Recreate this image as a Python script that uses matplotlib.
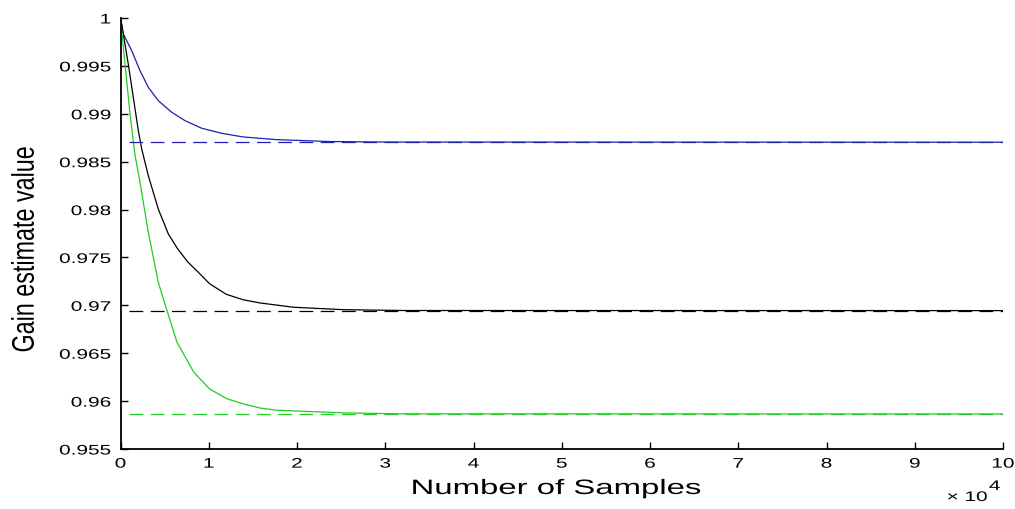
import matplotlib
matplotlib.use("Agg")
import matplotlib.pyplot as plt
from matplotlib.patheffects import AbstractPathEffect
from matplotlib.transforms import Affine2D

# x in samples
blue_x = [0, 320, 1270, 2210, 3150, 4280, 5800, 7310, 9200, 11470, 13900, 17700, 23700, 30000, 100000]
blue_y = [1.0, 0.99833, 0.99659, 0.99450, 0.99277, 0.99137, 0.99016, 0.98928, 0.98849, 0.98796,
          0.98758, 0.98730, 0.98710, 0.98705, 0.98703]

black_x = [0, 130, 880, 1450, 2020, 2400, 3150, 4280, 5420, 6400, 7600, 8820, 10100, 12000, 13900,
           15800, 19600, 25200, 32000, 100000]
black_y = [1.0, 0.99937, 0.99520, 0.99172, 0.98824, 0.98633, 0.98354, 0.98006, 0.97745, 0.97600,
           0.97455, 0.97345, 0.97225, 0.97115, 0.97058, 0.97025, 0.96980, 0.96955, 0.96946, 0.96945]

green_x = [0, 320, 700, 1080, 1640, 2210, 3150, 4280, 5270, 6400, 8300, 10100, 12000, 13900,
           15800, 17700, 25300, 32000, 100000]
green_y = [1.0, 0.99694, 0.99346, 0.98998, 0.98570, 0.98285, 0.97763, 0.97241, 0.96945, 0.96615,
           0.96302, 0.96127, 0.96027, 0.95971, 0.95928, 0.95905, 0.95877, 0.95867, 0.95866]

dash_start = 1000
blue_final = 0.98703
black_final = 0.96945
green_final = 0.95866

xticks = list(range(0, 100001, 10000))
xtick_labels = [str(i) for i in range(0, 11)]
yticks = [0.955, 0.96, 0.965, 0.97, 0.975, 0.98, 0.985, 0.99, 0.995, 1.0]
ytick_labels = ["0.955", "0.96", "0.965", "0.97", "0.975", "0.98", "0.985", "0.99", "0.995", "1"]


class Stretch(AbstractPathEffect):
    """Scale glyph outlines along (sx) and across (sy) the text direction."""
    def __init__(self, sx=1.0, sy=1.0, anchor='center'):
        super().__init__()
        self.sx, self.sy, self.anchor = sx, sy, anchor

    def draw_path(self, renderer, gc, tpath, affine, rgbFace=None):
        ext = tpath.get_extents()
        if self.anchor == 'left':
            px = ext.x0
        elif self.anchor == 'right':
            px = ext.x1
        else:
            px = 0.5 * (ext.x0 + ext.x1)
        py = 0.5 * (ext.y0 + ext.y1)
        t = Affine2D().translate(-px, -py).scale(self.sx, self.sy).translate(px, py)
        renderer.draw_path(gc, tpath, t + affine, rgbFace)


plt.rcParams['font.family'] = ['Liberation Sans', 'DejaVu Sans']

W, H = 1015, 510
fig = plt.figure(figsize=(W / 100, H / 100), dpi=100)
ax = fig.add_axes([120.5 / W, 1 - 450 / H, (1003 - 120.5) / W, (450 - 19) / H])

c_blue = '#1e1eb0'
c_black = '#000000'
c_green = '#22cc22'

ax.plot(blue_x, blue_y, color=c_blue, lw=0.9)
ax.plot(black_x, black_y, color=c_black, lw=0.9)
ax.plot(green_x, green_y, color=c_green, lw=0.9)

for val, c in [(blue_final, c_blue), (black_final, c_black), (green_final, c_green)]:
    ax.plot([dash_start, 100000], [val, val], color=c, lw=0.9, dashes=(11, 6))

ax.set_xlim(0, 100000)
ax.set_ylim(0.955, 1.0)
ax.set_xticks(xticks)
ax.set_xticklabels(xtick_labels)
ax.set_yticks(yticks)
ax.set_yticklabels(ytick_labels)
ax.tick_params(direction='in', length=5, width=1, labelsize=10, colors='black')
ax.tick_params(axis='y', pad=7)
ax.tick_params(axis='x', pad=5.5)
for s in ['top', 'right']:
    ax.spines[s].set_visible(False)
for s in ['left', 'bottom']:
    ax.spines[s].set_linewidth(1.3)

for lbl in ax.get_yticklabels():
    lbl.set_path_effects([Stretch(1.5, 1.0, 'right')])
for lbl in ax.get_xticklabels():
    lbl.set_path_effects([Stretch(1.5, 1.0, 'center')])

fig.text(556.5 / W, 1 - 495 / H, "Number of Samples", fontsize=15, ha='center', va='baseline',
         path_effects=[Stretch(1.58, 1.0, 'center')])
fig.text(24.5 / W, 1 - 250 / H, "Gain estimate value", fontsize=15, rotation=90,
         ha='center', va='center', path_effects=[Stretch(1.12, 1.5, 'center')])

fig.text(947 / W, 1 - 502 / H, "× 10", fontsize=10, ha='left', va='baseline',
         path_effects=[Stretch(1.5, 1.0, 'left')])
fig.text(989 / W, 1 - 491 / H, "4", fontsize=10, ha='left', va='baseline',
         path_effects=[Stretch(1.5, 1.0, 'left')])

fig.savefig("out.png", dpi=100)
